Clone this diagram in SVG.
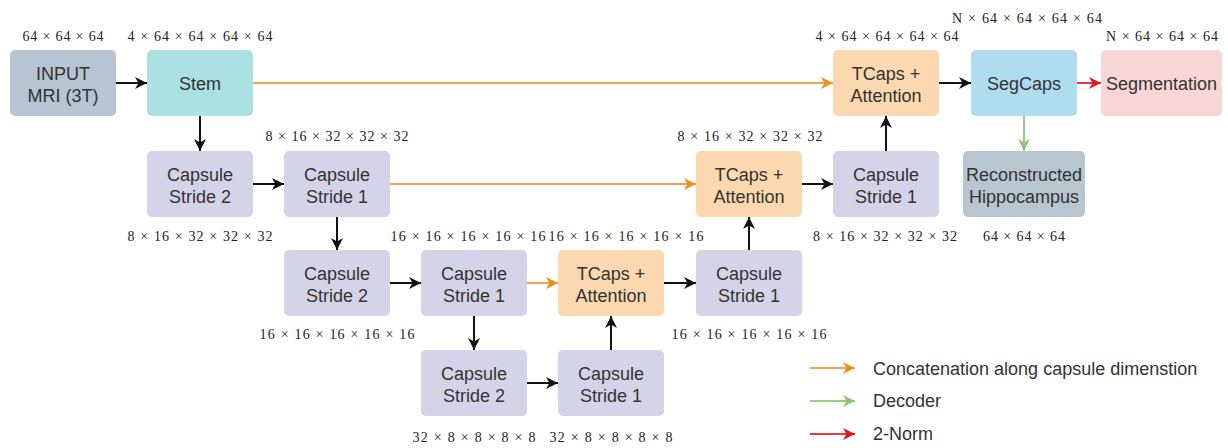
<svg xmlns="http://www.w3.org/2000/svg" width="1228" height="448" viewBox="0 0 1228 448">
<style>
.n{stroke:none}
.t{font-family:"Liberation Sans",Arial,sans-serif;font-size:18px;fill:#333;text-anchor:middle}
.l{font-family:"Liberation Serif","Times New Roman",serif;font-size:14px;fill:#222;text-anchor:middle}
.lg{font-family:"Liberation Sans",Arial,sans-serif;font-size:18px;fill:#333}
.k{stroke:#111;stroke-width:2;fill:none}
.o{stroke:#f4a448;stroke-width:2;fill:none}
.g{stroke:#98cc80;stroke-width:2;fill:none}
.r{stroke:#e83a3a;stroke-width:2;fill:none}
.in{fill:#b6c5d1}.st{fill:#abe1e2}.cp{fill:#d4d3e7}.tc{fill:#fbd8af}.sg{fill:#b0dcf0}.se{fill:#f8d6d6}.rc{fill:#b7c6cf}
</style>
<defs>
<marker id="ak" markerUnits="userSpaceOnUse" markerWidth="13" markerHeight="13" refX="12" refY="6.5" orient="auto"><path d="M0,0.5 L12,6.5 L0,12.5 L3.5,6.5 z" fill="#111"/></marker>
<marker id="ao" markerUnits="userSpaceOnUse" markerWidth="13" markerHeight="13" refX="12" refY="6.5" orient="auto"><path d="M0,0.5 L12,6.5 L0,12.5 L3.5,6.5 z" fill="#f08c1e"/></marker>
<marker id="ag" markerUnits="userSpaceOnUse" markerWidth="13" markerHeight="13" refX="12" refY="6.5" orient="auto"><path d="M0,0.5 L12,6.5 L0,12.5 L3.5,6.5 z" fill="#8cc870"/></marker>
<marker id="ar" markerUnits="userSpaceOnUse" markerWidth="13" markerHeight="13" refX="12" refY="6.5" orient="auto"><path d="M0,0.5 L12,6.5 L0,12.5 L3.5,6.5 z" fill="#e5141e"/></marker>
</defs>
<rect width="1228" height="448" fill="#fff"/>

<g id="connectors">
<line class="k" x1="116" y1="83" x2="147" y2="83" marker-end="url(#ak)"/>
<line class="o" x1="253" y1="83" x2="833" y2="83" marker-end="url(#ao)"/>
<line class="k" x1="939" y1="83" x2="971" y2="83" marker-end="url(#ak)"/>
<line class="r" x1="1077" y1="83" x2="1101" y2="83" marker-end="url(#ar)"/>
<line class="g" x1="1024" y1="116" x2="1024" y2="151" marker-end="url(#ag)"/>
<line class="k" x1="200" y1="116" x2="200" y2="151" marker-end="url(#ak)"/>
<line class="k" x1="253" y1="184" x2="284" y2="184" marker-end="url(#ak)"/>
<line class="o" x1="390" y1="184" x2="696" y2="184" marker-end="url(#ao)"/>
<line class="k" x1="802" y1="184" x2="833" y2="184" marker-end="url(#ak)"/>
<line class="k" x1="886" y1="151" x2="886" y2="116" marker-end="url(#ak)"/>
<line class="k" x1="337" y1="217" x2="337" y2="250" marker-end="url(#ak)"/>
<line class="k" x1="390" y1="283" x2="421" y2="283" marker-end="url(#ak)"/>
<line class="o" x1="527" y1="283" x2="558" y2="283" marker-end="url(#ao)"/>
<line class="k" x1="664" y1="283" x2="696" y2="283" marker-end="url(#ak)"/>
<line class="k" x1="749" y1="250" x2="749" y2="217" marker-end="url(#ak)"/>
<line class="k" x1="474" y1="316" x2="474" y2="350" marker-end="url(#ak)"/>
<line class="k" x1="527" y1="383" x2="558" y2="383" marker-end="url(#ak)"/>
<line class="k" x1="611" y1="350" x2="611" y2="316" marker-end="url(#ak)"/>
</g>

<g id="input"><rect class="in" x="10" y="50" width="106" height="66" rx="5"/><text class="t" x="63" y="80">INPUT</text><text class="t" x="63" y="102">MRI (3T)</text></g>
<g id="stem"><rect class="st" x="147" y="50" width="106" height="66" rx="5"/><text class="t" x="200" y="89.500">Stem</text></g>
<g id="tcaps1"><rect class="tc" x="833" y="50" width="106" height="66" rx="5"/><text class="t" x="886" y="80">TCaps +</text><text class="t" x="886" y="102">Attention</text></g>
<g id="segcaps"><rect class="sg" x="971" y="50" width="106" height="66" rx="5"/><text class="t" x="1024" y="89.500">SegCaps</text></g>
<g id="segmentation"><rect class="se" x="1101" y="50" width="121" height="66" rx="5"/><text class="t" x="1161.500" y="89.500">Segmentation</text></g>

<g id="cs2a"><rect class="cp" x="147" y="151" width="106" height="66" rx="5"/><text class="t" x="200" y="181">Capsule</text><text class="t" x="200" y="203">Stride 2</text></g>
<g id="cs1a"><rect class="cp" x="284" y="151" width="106" height="66" rx="5"/><text class="t" x="337" y="181">Capsule</text><text class="t" x="337" y="203">Stride 1</text></g>
<g id="tcaps2"><rect class="tc" x="696" y="151" width="106" height="66" rx="5"/><text class="t" x="749" y="181">TCaps +</text><text class="t" x="749" y="203">Attention</text></g>
<g id="cs1b"><rect class="cp" x="833" y="151" width="106" height="66" rx="5"/><text class="t" x="886" y="181">Capsule</text><text class="t" x="886" y="203">Stride 1</text></g>
<g id="recon"><rect class="rc" x="963" y="151" width="122" height="66" rx="5"/><text class="t" x="1024" y="181">Reconstructed</text><text class="t" x="1024" y="203">Hippocampus</text></g>

<g id="cs2b"><rect class="cp" x="284" y="250" width="106" height="66" rx="5"/><text class="t" x="337" y="280">Capsule</text><text class="t" x="337" y="302">Stride 2</text></g>
<g id="cs1c"><rect class="cp" x="421" y="250" width="106" height="66" rx="5"/><text class="t" x="474" y="280">Capsule</text><text class="t" x="474" y="302">Stride 1</text></g>
<g id="tcaps3"><rect class="tc" x="558" y="250" width="106" height="66" rx="5"/><text class="t" x="611" y="280">TCaps +</text><text class="t" x="611" y="302">Attention</text></g>
<g id="cs1d"><rect class="cp" x="696" y="250" width="106" height="66" rx="5"/><text class="t" x="749" y="280">Capsule</text><text class="t" x="749" y="302">Stride 1</text></g>

<g id="cs2c"><rect class="cp" x="421" y="350" width="106" height="66" rx="5"/><text class="t" x="474" y="380">Capsule</text><text class="t" x="474" y="402">Stride 2</text></g>
<g id="cs1e"><rect class="cp" x="558" y="350" width="106" height="66" rx="5"/><text class="t" x="611" y="380">Capsule</text><text class="t" x="611" y="402">Stride 1</text></g>

<g id="labels">
<text class="l" x="63" y="41" textLength="81" lengthAdjust="spacing">64 × 64 × 64</text>
<text class="l" x="200" y="41" textLength="145" lengthAdjust="spacing">4 × 64 × 64 × 64 × 64</text>
<text class="l" x="887" y="41" textLength="143" lengthAdjust="spacing">4 × 64 × 64 × 64 × 64</text>
<text class="l" x="1027" y="23" textLength="150" lengthAdjust="spacing">N × 64 × 64 × 64 × 64</text>
<text class="l" x="1162" y="41" textLength="112" lengthAdjust="spacing">N × 64 × 64 × 64</text>
<text class="l" x="337" y="141" textLength="143" lengthAdjust="spacing">8 × 16 × 32 × 32 × 32</text>
<text class="l" x="750" y="141" textLength="145" lengthAdjust="spacing">8 × 16 × 32 × 32 × 32</text>
<text class="l" x="200" y="241" textLength="145" lengthAdjust="spacing">8 × 16 × 32 × 32 × 32</text>
<text class="l" x="468" y="241" textLength="155" lengthAdjust="spacing">16 × 16 × 16 × 16 × 16</text>
<text class="l" x="626" y="241" textLength="155" lengthAdjust="spacing">16 × 16 × 16 × 16 × 16</text>
<text class="l" x="885" y="241" textLength="144" lengthAdjust="spacing">8 × 16 × 32 × 32 × 32</text>
<text class="l" x="1024" y="241" textLength="82" lengthAdjust="spacing">64 × 64 × 64</text>
<text class="l" x="337" y="339" textLength="155" lengthAdjust="spacing">16 × 16 × 16 × 16 × 16</text>
<text class="l" x="749" y="339" textLength="155" lengthAdjust="spacing">16 × 16 × 16 × 16 × 16</text>
<text class="l" x="474" y="442" textLength="123" lengthAdjust="spacing">32 × 8 × 8 × 8 × 8</text>
<text class="l" x="611" y="442" textLength="123" lengthAdjust="spacing">32 × 8 × 8 × 8 × 8</text>
</g>

<g id="legend">
<line class="o" x1="810" y1="368" x2="855" y2="368" marker-end="url(#ao)"/>
<text class="lg" x="873" y="375">Concatenation along capsule dimenstion</text>
<line class="g" x1="810" y1="401" x2="855" y2="401" marker-end="url(#ag)"/>
<text class="lg" x="873" y="407">Decoder</text>
<line class="r" x1="810" y1="434" x2="855" y2="434" marker-end="url(#ar)"/>
<text class="lg" x="873" y="440">2-Norm</text>
</g>
</svg>
